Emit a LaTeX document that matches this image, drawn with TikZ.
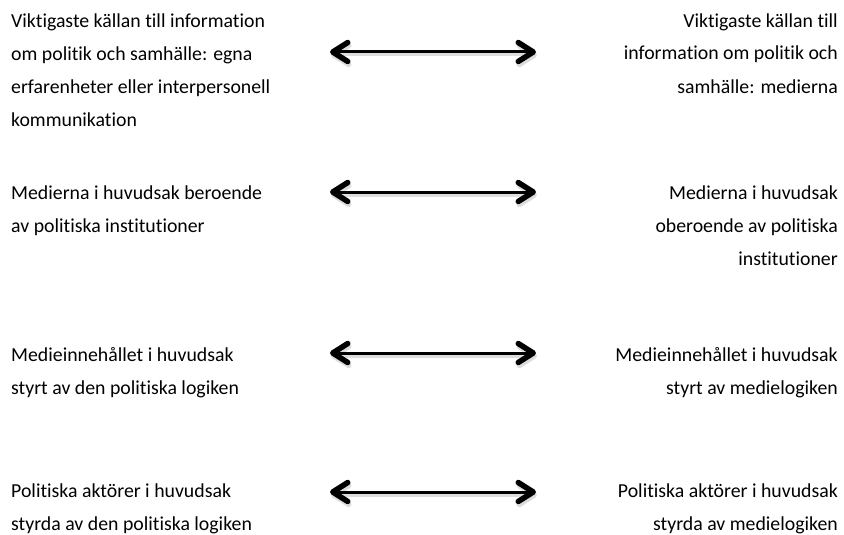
\documentclass[tikz,border=0pt]{standalone}
\usepackage{fontspec}
\setmainfont{Carlito}[Ligatures=CommonOff]
\usetikzlibrary{arrows.meta}

\tikzset{
  claim/.style={inner sep=0pt, font=\fontsize{19.8pt}{33pt}\selectfont},
  leftclaim/.style={claim, anchor=base west, align=left},
  rightclaim/.style={claim, anchor=base east, align=right},
  pole/.style={line width=3pt,
    {Straight Barb[length=15pt, width=19pt, line width=5.5pt, round]}-{Straight Barb[length=15pt, width=19pt, line width=5.5pt, round]}},
  poleshadow/.style={pole, draw=black!22, opacity=0.6},
}

\begin{document}
\begin{tikzpicture}[x=1pt, y=-1pt]
\useasboundingbox (0, 0) rectangle (844, 535);

% anchors sit on the last line of each block
\node [leftclaim] (left1) at (11, 126) {Viktigaste källan till information\\om politik och samhälle: egna\\erfarenheter eller interpersonell\\kommunikation};
\node [rightclaim] (right1) at (838, 93) {Viktigaste källan till\\information om politik och\\samhälle: medierna};

\node [leftclaim] (left2) at (11, 232) {Medierna i huvudsak beroende\\av politiska institutioner};
\node [rightclaim] (right2) at (838, 265) {Medierna i huvudsak\\oberoende av politiska\\institutioner};

\node [leftclaim] (left3) at (11, 394) {Medieinnehållet i huvudsak\\styrt av den politiska logiken};
\node [rightclaim] (right3) at (838, 394) {Medieinnehållet i huvudsak\\styrt av medielogiken};

\node [leftclaim] (left4) at (11, 530) {Politiska aktörer i huvudsak\\styrda av den politiska logiken};
\node [rightclaim] (right4) at (838, 530) {Politiska aktörer i huvudsak\\styrda av medielogiken};

%%%%%%%%%%%%%%%%%%%%%%%%%%%%%%%%%%%%%%%%

\path (330, 52) coordinate (a1) (536, 52) coordinate (b1);
\path (330, 192) coordinate (a2) (536, 192) coordinate (b2);
\path (330, 353) coordinate (a3) (536, 353) coordinate (b3);
\path (330, 492) coordinate (a4) (536, 492) coordinate (b4);

\draw [poleshadow] ([shift={(1,3)}]a1) -- ([shift={(1,3)}]b1);
\draw [poleshadow] ([shift={(1,3)}]a2) -- ([shift={(1,3)}]b2);
\draw [poleshadow] ([shift={(1,3)}]a3) -- ([shift={(1,3)}]b3);
\draw [poleshadow] ([shift={(1,3)}]a4) -- ([shift={(1,3)}]b4);

\draw [pole] (a1) -- (b1);
\draw [pole] (a2) -- (b2);
\draw [pole] (a3) -- (b3);
\draw [pole] (a4) -- (b4);

\end{tikzpicture}
\end{document}
